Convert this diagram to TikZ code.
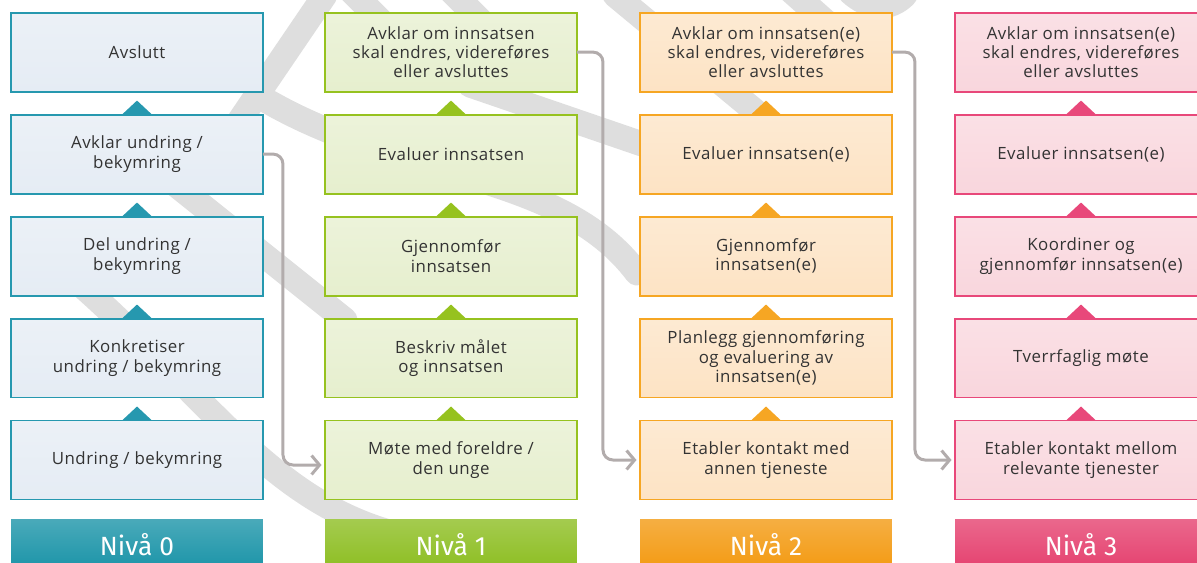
\documentclass[tikz,border=0pt]{standalone}
\usepackage{fontspec}
\setmainfont[LetterSpace=3]{Open Sans}
\newfontfamily\headfont{Fira Sans}
\usetikzlibrary{arrows.meta}
\usetikzlibrary{positioning}
\usetikzlibrary{calc}
\definecolor{teal0}{RGB}{38,152,175}
\definecolor{fill0}{RGB}{229,236,244}
\definecolor{head0}{RGB}{27,148,168}
\definecolor{green1}{RGB}{150,194,31}
\definecolor{fill1}{RGB}{230,239,206}
\definecolor{head1}{RGB}{141,190,34}
\definecolor{orange2}{RGB}{246,166,35}
\definecolor{fill2}{RGB}{253,227,196}
\definecolor{head2}{RGB}{243,154,18}
\definecolor{pink3}{RGB}{232,72,122}
\definecolor{fill3}{RGB}{249,214,221}
\definecolor{head3}{RGB}{229,65,111}
\definecolor{flowgray}{RGB}{178,172,172}
\definecolor{markgray}{RGB}{222,222,222}
\definecolor{textgray}{RGB}{51,51,51}
\tikzset{
    stepbox/.style={rectangle, line width=1.1pt, outer sep=0pt, inner sep=2pt,
        minimum width=5.04cm, minimum height=1.58cm, align=center,
        text=textgray, font=\fontsize{9.6}{11}\selectfont},
    lvl0/.style={stepbox, draw=teal0, top color=fill0!75!white, bottom color=fill0},
    lvl1/.style={stepbox, draw=green1, top color=fill1!75!white, bottom color=fill1},
    lvl2/.style={stepbox, draw=orange2, top color=fill2!75!white, bottom color=fill2},
    lvl3/.style={stepbox, draw=pink3, top color=fill3!75!white, bottom color=fill3},
    header/.style={rectangle, outer sep=0pt, minimum width=5.04cm, minimum height=1.0cm,
        text=white, font=\headfont\fontsize{15}{15}\selectfont},
    hd0/.style={header, top color=head0!80!white, bottom color=head0},
    hd1/.style={header, top color=head1!80!white, bottom color=head1},
    hd2/.style={header, top color=head2!80!white, bottom color=head2},
    hd3/.style={header, top color=head3!80!white, bottom color=head3},
    flow/.style={draw=flowgray, line width=1.7pt, rounded corners=0.2cm,
        -{Straight Barb[length=1.6mm,width=3.8mm]}, shorten >=2pt},
    wmark/.style={draw=markgray, line width=0.5cm, line cap=round},
}
\def\steptri[#1](#2)% Syntax: [colour] (node under the triangle)
    { \fill[#1] ($(#2.north)+(-15,0)$) -- ($(#2.north)+(0,-14)$) -- ($(#2.north)+(15,0)$) -- cycle; }

\begin{document}
\begin{tikzpicture}[x=0.02cm, y=-0.02cm]
	\useasboundingbox (0,0) rectangle (1197,562);
	% watermark in the background
	\draw[wmark] (325,-5) -- (240,120);
	\draw[wmark] (262,98) .. controls (400,180) and (560,170) .. (637,273);
	\draw[wmark] (170,180) -- (345,320);
	\draw[wmark] (40,250) .. controls (200,380) and (260,500) .. (400,535);
	\draw[wmark] (470,85) -- (645,145);
	\draw[wmark] (350,-10) -- (400,40);
	\draw[wmark] (450,-10) -- (500,40);
	\draw[wmark] (615,-5) -- (790,140);
	\draw[wmark] (790,-10) -- (835,30);
	\draw[wmark] (850,-8) .. controls (870,10) and (890,10) .. (905,-5);

	% Niva 0
	\node[lvl0] (c0r5) at (137,460) {Undring / bekymring};
	\node[lvl0, above=0.46cm of c0r5] (c0r4) {Konkretiser\\undring / bekymring};
	\node[lvl0, above=0.46cm of c0r4] (c0r3) {Del undring /\\bekymring};
	\node[lvl0, above=0.46cm of c0r3] (c0r2) {Avklar undring /\\bekymring};
	\node[lvl0, above=0.46cm of c0r2] (c0r1) {Avslutt};
	\node[hd0, below=0.41cm of c0r5] (h0) {Nivå 0};

	% Niva 1
	\node[lvl1] (c1r5) at (451,460) {Møte med foreldre /\\den unge};
	\node[lvl1, above=0.46cm of c1r5] (c1r4) {Beskriv målet\\og innsatsen};
	\node[lvl1, above=0.46cm of c1r4] (c1r3) {Gjennomfør\\innsatsen};
	\node[lvl1, above=0.46cm of c1r3] (c1r2) {Evaluer innsatsen};
	\node[lvl1, above=0.46cm of c1r2] (c1r1) {Avklar om innsatsen\\skal endres, videreføres\\eller avsluttes};
	\node[hd1, below=0.41cm of c1r5] (h1) {Nivå 1};

	% Niva 2
	\node[lvl2] (c2r5) at (766,460) {Etabler kontakt med\\annen tjeneste};
	\node[lvl2, above=0.46cm of c2r5] (c2r4) {Planlegg gjennomføring\\og evaluering av\\innsatsen(e)};
	\node[lvl2, above=0.46cm of c2r4] (c2r3) {Gjennomfør\\innsatsen(e)};
	\node[lvl2, above=0.46cm of c2r3] (c2r2) {Evaluer innsatsen(e)};
	\node[lvl2, above=0.46cm of c2r2] (c2r1) {Avklar om innsatsen(e)\\skal endres, videreføres\\eller avsluttes};
	\node[hd2, below=0.41cm of c2r5] (h2) {Nivå 2};

	% Niva 3
	\node[lvl3] (c3r5) at (1081,460) {Etabler kontakt mellom\\relevante tjenester};
	\node[lvl3, above=0.46cm of c3r5] (c3r4) {Tverrfaglig møte};
	\node[lvl3, above=0.46cm of c3r4] (c3r3) {Koordiner og\\gjennomfør innsatsen(e)};
	\node[lvl3, above=0.46cm of c3r3] (c3r2) {Evaluer innsatsen(e)};
	\node[lvl3, above=0.46cm of c3r2] (c3r1) {Avklar om innsatsen(e)\\skal endres, videreføres\\eller avsluttes};
	\node[hd3, below=0.41cm of c3r5] (h3) {Nivå 3};

	% triangles between the steps
	\steptri[teal0](c0r2); \steptri[teal0](c0r3); \steptri[teal0](c0r4); \steptri[teal0](c0r5);
	\steptri[green1](c1r2); \steptri[green1](c1r3); \steptri[green1](c1r4); \steptri[green1](c1r5);
	\steptri[orange2](c2r2); \steptri[orange2](c2r3); \steptri[orange2](c2r4); \steptri[orange2](c2r5);
	\steptri[pink3](c3r2); \steptri[pink3](c3r3); \steptri[pink3](c3r4); \steptri[pink3](c3r5);

	% to the next level
	\draw[flow] (c0r2.east) -- ++(20,0) |- ($(c1r5.west)+(0,5)$);
	\draw[flow] (c1r1.east) -- ++(26,0) |- (c2r5.west);
	\draw[flow] (c2r1.east) -- ++(23,0) |- (c3r5.west);
\end{tikzpicture}
\end{document}
